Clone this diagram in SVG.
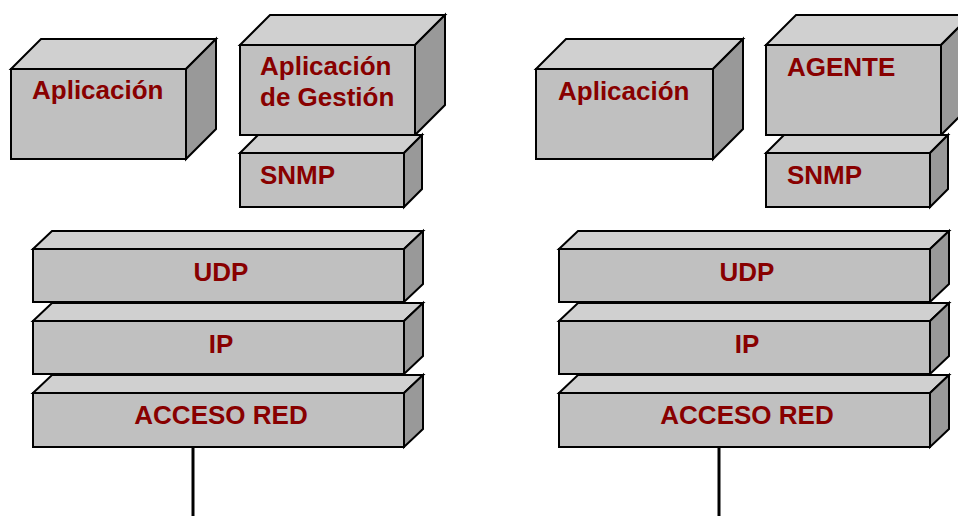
<svg xmlns="http://www.w3.org/2000/svg" width="958" height="516" viewBox="0 0 958 516">
<style>
.f{fill:#c0c0c0;stroke:#000;stroke-width:2;stroke-linejoin:miter}
.t{fill:#d0d0d0;stroke:#000;stroke-width:2}
.r{fill:#999;stroke:#000;stroke-width:2}
text{font-family:"Liberation Sans",Arial,sans-serif;font-weight:bold;font-size:26px;fill:#880000}
.c{text-anchor:middle}
.ln{stroke:#000;stroke-width:3;fill:none}
</style>
<rect width="958" height="516" fill="#fff"/>
<g id="connectors">
<line class="ln" x1="193" y1="447" x2="193" y2="516"/>
<line class="ln" x1="719" y1="447" x2="719" y2="516"/>
</g>
<g id="app-left">
<polygon class="t" points="11,69 41,39 216,39 186,69"/>
<polygon class="r" points="186,69 216,39 216,129 186,159"/>
<rect class="f" x="11" y="69" width="175" height="90"/>
<text x="32" y="99">Aplicación</text>
</g>
<g id="app-gestion">
<polygon class="t" points="240,45 270,15 445,15 415,45"/>
<polygon class="r" points="415,45 445,15 445,105 415,135"/>
<rect class="f" x="240" y="45" width="175" height="90"/>
<text x="260" y="75">Aplicación</text>
<text x="260" y="106">de Gestión</text>
</g>
<g id="snmp-left">
<polygon class="t" points="240,153 258,135 422,135 404,153"/>
<polygon class="r" points="404,153 422,135 422,189 404,207"/>
<rect class="f" x="240" y="153" width="164" height="54"/>
<text x="260" y="184">SNMP</text>
</g>
<g id="udp-left">
<polygon class="t" points="33,249 52,231 423,231 404,249"/>
<polygon class="r" points="404,249 423,231 423,284 404,302"/>
<rect class="f" x="33" y="249" width="371" height="53"/>
<text class="c" x="221" y="281">UDP</text>
</g>
<g id="ip-left">
<polygon class="t" points="33,321 52,303 423,303 404,321"/>
<polygon class="r" points="404,321 423,303 423,356 404,374"/>
<rect class="f" x="33" y="321" width="371" height="53"/>
<text class="c" x="221" y="353">IP</text>
</g>
<g id="red-left">
<polygon class="t" points="33,393 52,375 423,375 404,393"/>
<polygon class="r" points="404,393 423,375 423,429 404,447"/>
<rect class="f" x="33" y="393" width="371" height="54"/>
<text class="c" x="221" y="424">ACCESO RED</text>
</g>
<g id="app-right">
<polygon class="t" points="536,69 566,39 743,39 713,69"/>
<polygon class="r" points="713,69 743,39 743,129 713,159"/>
<rect class="f" x="536" y="69" width="177" height="90"/>
<text x="558" y="100">Aplicación</text>
</g>
<g id="agente">
<polygon class="t" points="766,45 796,15 971,15 941,45"/>
<polygon class="r" points="941,45 971,15 971,105 941,135"/>
<rect class="f" x="766" y="45" width="175" height="90"/>
<text x="787" y="76">AGENTE</text>
</g>
<g id="snmp-right">
<polygon class="t" points="766,153 784,135 948,135 930,153"/>
<polygon class="r" points="930,153 948,135 948,189 930,207"/>
<rect class="f" x="766" y="153" width="164" height="54"/>
<text x="787" y="184">SNMP</text>
</g>
<g id="udp-right">
<polygon class="t" points="559,249 578,231 949,231 930,249"/>
<polygon class="r" points="930,249 949,231 949,284 930,302"/>
<rect class="f" x="559" y="249" width="371" height="53"/>
<text class="c" x="747" y="281">UDP</text>
</g>
<g id="ip-right">
<polygon class="t" points="559,321 578,303 949,303 930,321"/>
<polygon class="r" points="930,321 949,303 949,356 930,374"/>
<rect class="f" x="559" y="321" width="371" height="53"/>
<text class="c" x="747" y="353">IP</text>
</g>
<g id="red-right">
<polygon class="t" points="559,393 578,375 949,375 930,393"/>
<polygon class="r" points="930,393 949,375 949,429 930,447"/>
<rect class="f" x="559" y="393" width="371" height="54"/>
<text class="c" x="747" y="424">ACCESO RED</text>
</g>
</svg>
